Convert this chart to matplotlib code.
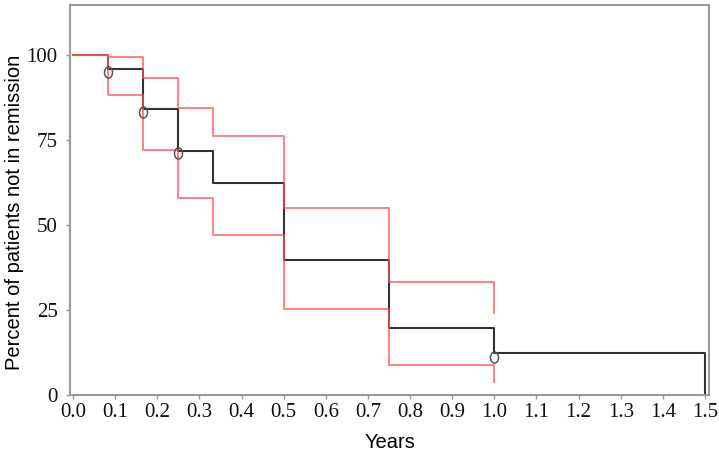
import matplotlib
matplotlib.use('Agg')
import matplotlib.pyplot as plt
from matplotlib.path import Path
from matplotlib.transforms import Affine2D

# Kaplan-Meier estimate (percent not in remission)
km_years = [0, 1/12, 2/12, 3/12, 4/12, 0.5, 0.75, 1.0, 1.5]
km_pct = [100, 95.9, 84.1, 71.9, 62.3, 39.7, 19.6, 12.3, 0]

# confidence limits
ci_years = [0, 1/12, 2/12, 3/12, 4/12, 0.5, 0.75, 1.0]
ci_upper = [100, 99.5, 93.2, 84.3, 76.1, 54.9, 33.1, 24.2]
ci_lower = [100, 88.2, 72.0, 57.8, 47.1, 25.3, 8.8, 3.9]

# censored observations
cens_years = [1/12, 2/12, 3/12, 1.0]
cens_pct = [94.9, 83.1, 71.2, 11.3]

x_ticks = [i / 10 for i in range(16)]
y_ticks = [0, 25, 50, 75, 100]

fig = plt.figure(figsize=(7.19, 4.58), dpi=100)
ax = fig.add_axes([0.0974, 0.1376, 0.8887, 0.8515])

ax.step(km_years, km_pct, where='post', color='#333333', lw=1.5, zorder=2)
ax.step(ci_years, ci_upper, where='post', color='#ff5252', alpha=0.72, lw=1.4, zorder=3)
ax.step(ci_years, ci_lower, where='post', color='#ff5252', alpha=0.72, lw=1.4, zorder=3)

oval = Path.unit_circle().transformed(Affine2D().scale(0.72, 1.0))
ax.plot(cens_years, cens_pct, ls='none', marker=oval, markersize=8,
        markerfacecolor='none', markeredgecolor='#555555', markeredgewidth=1.1, zorder=4)

ax.set_xlim(-0.0071, 1.5095)
ax.set_ylim(0, 114.7)
ax.set_xticks(x_ticks)
ax.set_xticklabels([f'{t:.1f}' for t in x_ticks])
ax.set_yticks(y_ticks)

for s in ax.spines.values():
    s.set_color('#9a9a9a')
    s.set_linewidth(1.5)

ax.tick_params(axis='both', direction='out', length=3, width=1, color='#9a9a9a')
ax.tick_params(axis='x', pad=3)
ax.tick_params(axis='y', pad=6)
for lab in ax.get_xticklabels() + ax.get_yticklabels():
    lab.set_fontfamily('Liberation Serif')
    lab.set_fontsize(15)
    lab.set_color('#111111')

ax.set_xlabel('Years', fontfamily='Liberation Sans', fontsize=14.5, labelpad=8)
ax.set_ylabel('Percent of patients not in remission', fontfamily='Liberation Sans',
              fontsize=14.5)
ax.yaxis.set_label_coords(-0.072, 0.467)

fig.savefig('out.png', dpi=100)
